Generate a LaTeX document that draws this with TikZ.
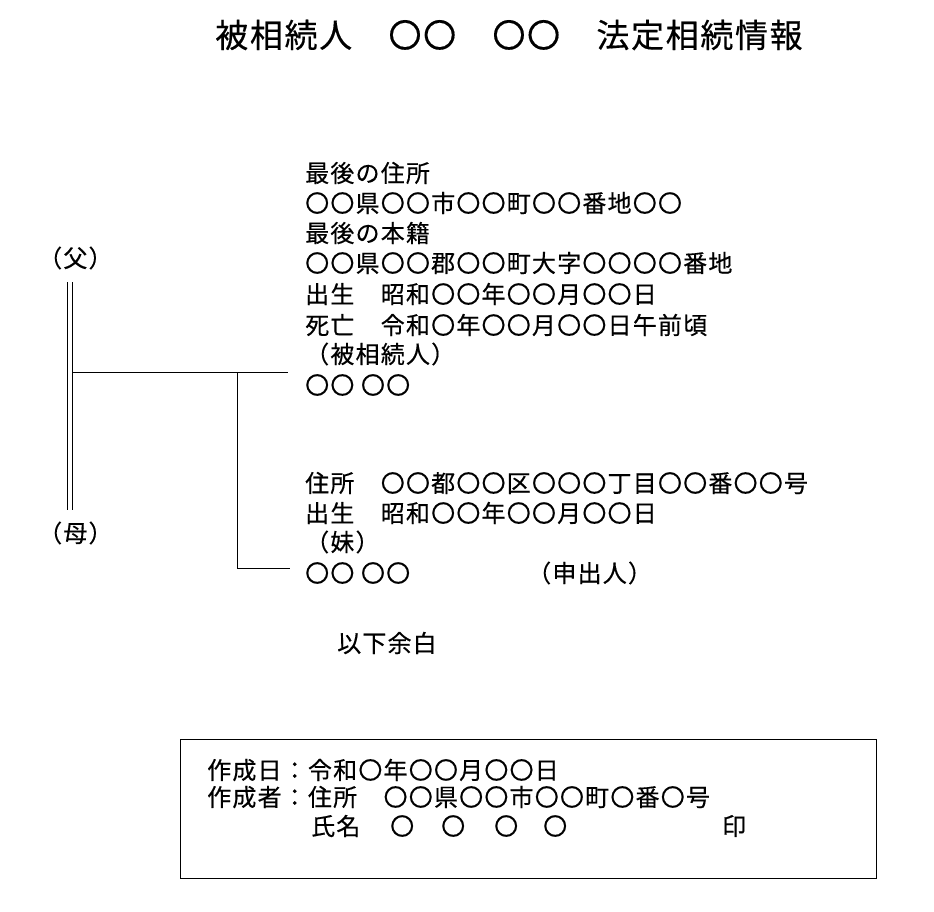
\documentclass[tikz,border=0pt]{standalone}
\usepackage{fontspec}
\setmainfont[LetterSpace=5,FakeBold=0.4]{Noto Sans CJK JP}
\begin{document}
\begin{tikzpicture}[x=1pt,y=-1pt,
  t/.style={anchor=west,inner sep=0pt,font=\fontsize{24}{24}\selectfont},
  ln/.style={line width=1pt}]
\useasboundingbox (0,0) rectangle (934,912);
\node[inner sep=0pt,font=\fontsize{33}{33}\selectfont] (title) at (509,35) {被相続人　〇〇　〇〇　法定相続情報};
\node[t] (f) at (38,258) {（父）};
\node[t] (m) at (38,533) {（母）};
\coordinate (p1) at (67,282); \coordinate (p2) at (67,510);
\coordinate (q1) at (72,282); \coordinate (q2) at (72,510);
\draw[ln] (p1) -- (p2); \draw[ln] (q1) -- (q2);
\coordinate (h1) at (72,372); \coordinate (h2) at (288,372);
\coordinate (v1) at (237,372); \coordinate (v2) at (237,568); \coordinate (v3) at (290,568);
\draw[ln] (h1) -- (h2);
\draw[ln] (v1) -- (v2) -- (v3);
\node[t] (a1) at (305,173) {最後の住所};
\node[t] (a2) at (305,203) {〇〇県〇〇市〇〇町〇〇番地〇〇};
\node[t] (a3) at (305,233) {最後の本籍};
\node[t] (a4) at (305,263) {〇〇県〇〇郡〇〇町大字〇〇〇〇番地};
\node[t] (a5) at (305,294) {出生　昭和〇〇年〇〇月〇〇日};
\node[t] (a6) at (305,325) {死亡　令和〇年〇〇月〇〇日午前頃};
\node[t] (a7) at (305,354) {（被相続人）};
\node[t] (a8) at (305,385) {〇〇 〇〇};
\node[t] (b1) at (305,483) {住所　〇〇都〇〇区〇〇〇丁目〇〇番〇〇号};
\node[t] (b2) at (305,513) {出生　昭和〇〇年〇〇月〇〇日};
\node[t] (b3) at (305,542) {（妹）};
\node[t] (b4) at (305,573) {〇〇 〇〇};
\node[t] (b5) at (527,573) {（申出人）};
\node[t] (yo) at (337,643) {以下余白};
\draw[line width=0.8pt] (180,739) rectangle (876,878);
\node[t] (c1) at (207,770) {作成日：令和〇年〇〇月〇〇日};
\node[t] (c2) at (207,797) {作成者：住所　〇〇県〇〇市〇〇町〇番〇号};
\node[t] (c3) at (311,826) {氏名};
\node[t] (o1) at (390,826) {〇};
\node[t] (o2) at (441,826) {〇};
\node[t] (o3) at (494,826) {〇};
\node[t] (o4) at (543,826) {〇};
\node[t] (in) at (722,826) {印};
\end{tikzpicture}
\end{document}
